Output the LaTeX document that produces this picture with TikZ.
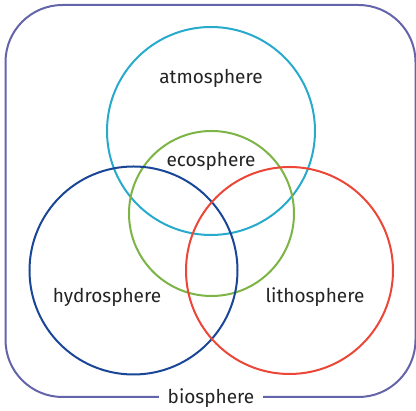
\documentclass[tikz,border=0pt]{standalone}
\usepackage{fontspec}
\setmainfont{Fira Sans}
\usepackage{tikz}
\definecolor{bioline}{RGB}{100,100,170}
\definecolor{atmoline}{RGB}{40,170,205}
\definecolor{ecoline}{RGB}{125,180,70}
\definecolor{hydroline}{RGB}{25,70,150}
\definecolor{litholine}{RGB}{235,70,55}
\definecolor{labeltext}{RGB}{35,35,35}
\tikzset{
  sphere/.style={line width=2pt},
  spherelabel/.style={text=labeltext,font=\fontsize{19}{22}\selectfont,inner sep=1pt},
}
\begin{document}
\begin{tikzpicture}[scale=1.000000,x=1pt,y=1pt]
\useasboundingbox (0.000000, 0.000000) rectangle (416.000000, 411.000000);
% Drawing the biosphere frame
\draw[color=bioline,line width=2pt,rounded corners=57pt] (5.500000, 14.000000) rectangle (415.500000, 406.000000);
% Drawing circles
\draw[sphere,color=atmoline] (211.000000, 280.000000) circle (104.000000);
\draw[sphere,color=ecoline] (211.500000, 197.500000) circle (82.500000);
\draw[sphere,color=hydroline] (133.500000, 140.500000) circle (104.000000);
\draw[sphere,color=litholine] (289.500000, 140.500000) circle (103.500000);
% Done with circles; drawing labels
\node[spherelabel] (atmo) at (211.000000, 333.000000) {atmosphere};
\node[spherelabel] (eco) at (211.000000, 250.000000) {ecosphere};
\node[spherelabel] (hydro) at (107.000000, 114.000000) {hydrosphere};
\node[spherelabel] (litho) at (315.000000, 114.000000) {lithosphere};
\node[spherelabel,fill=white,inner xsep=9pt] (bio) at (211.000000, 13.000000) {biosphere};
% Done with labels
\end{tikzpicture}
\end{document}
